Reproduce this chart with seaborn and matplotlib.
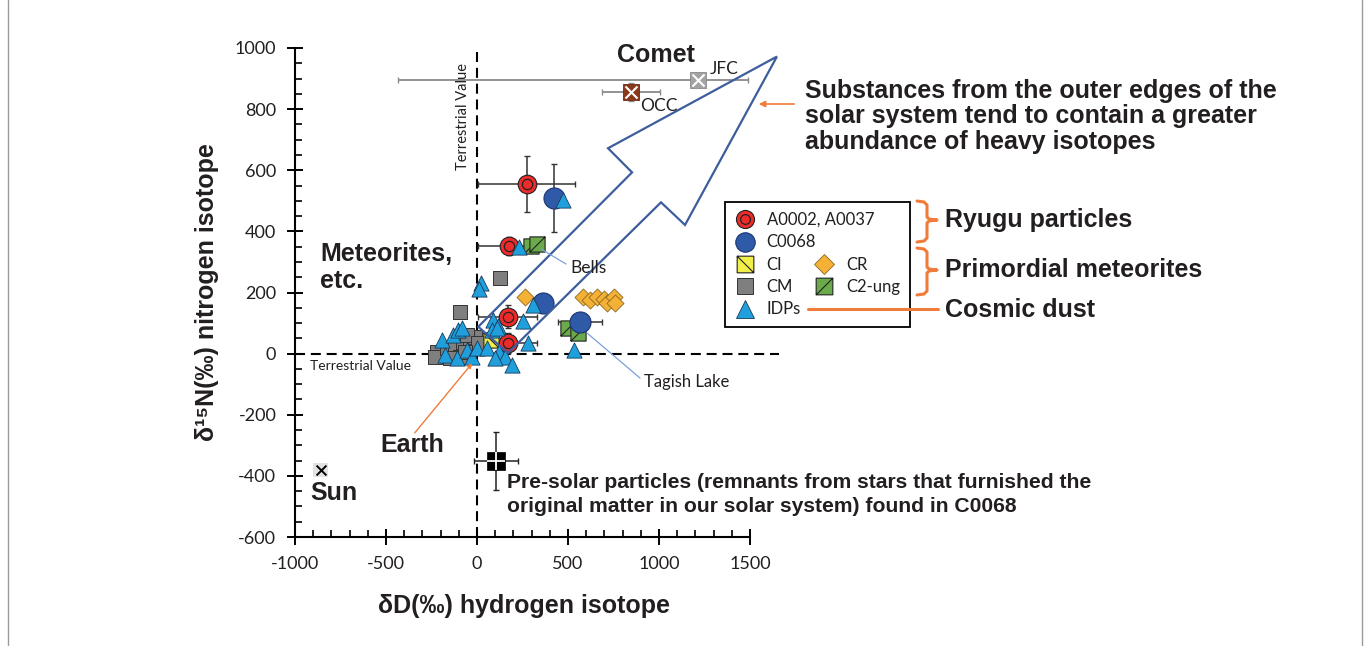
import matplotlib
matplotlib.use('Agg')
import matplotlib.pyplot as plt
import seaborn as sns
import numpy as np
import pandas as pd
from matplotlib.path import Path
from matplotlib.lines import Line2D
from matplotlib.patches import Polygon, FancyArrowPatch
from matplotlib.markers import MarkerStyle
from matplotlib.ticker import MultipleLocator
from matplotlib.legend_handler import HandlerTuple

# ---------------- data ----------------
ryugu_x = [273, 178, 169, 169]
ryugu_y = [555, 353, 121, 34]
ryugu_xerr = [268, 171, 162, 162]
ryugu_yerr = [91, 30, 38, 33]

c0068_x = [425, 364, 566]
c0068_y = [508, 165, 102]
c0068_xerr = [0, 0, 122]
c0068_yerr = [111, 0, 0]

ci_x = [77]
ci_y = [45]

cm_x = [126, -93, -221, -231, -167, -139, -121, -75, -38, -11, -93, -57, -148, 7, -66]
cm_y = [247, 136, 6, -10, 17, 1, 23, 39, 50, 55, -10, 61, -15, 34, 6]

cr_x = [264, 584, 621, 658, 698, 712, 753, 758]
cr_y = [184, 184, 175, 186, 178, 165, 184, 165]

c2ung_x = [297, 331, 502, 557]
c2ung_y = [353, 359, 83, 66]

idp_x = [474, 232, 20, 12, 306, 254, 86, 114, 282, 533, -194, -130, -103, -84, -176,
         -112, -57, -29, -2, 53, 81, 108, 123, 154, 190, 99]
idp_y = [502, 348, 230, 212, 159, 108, 110, 90, 34, 12, 45, 61, 77, 83, -5,
         -15, 12, -10, 17, 17, 77, 83, 6, -10, -37, -15]

presolar_x, presolar_y = [103], [-351]
presolar_xerr, presolar_yerr = [120], [95]

sun_x, sun_y = [-859], [-381]

jfc_x, jfc_y = [1214], [895]
jfc_xerr_lo, jfc_xerr_hi = [1648], [275]

occ_x, occ_y = [845], [855]
occ_xerr, occ_yerr = [160], [30]

# arrow outline (data coords)
arrow_x = [1648, 720, 852, 7, 170, 1011, 1143]
arrow_y = [972, 672, 593, 88, 2, 495, 421]

# ---------------- style ----------------
sns.set_style('ticks')
plt.rcParams['font.family'] = ['Lato', 'DejaVu Sans']
plt.rcParams['axes.unicode_minus'] = False

RED = '#ee2b2b'
BLUE = '#2f5aa8'
CYAN = '#1fa0dc'
GRAY = '#7f7f7f'
YELLOW = '#f2ee4a'
ORANGE_D = '#f4b135'
GREEN = '#6aaa4a'
ORANGE = '#f07c3c'
ARROWC = '#3d5d9c'
TXT = '#231f20'
BOLD = ['Liberation Sans', 'DejaVu Sans']

W, H = 1370, 646
fig = plt.figure(figsize=(W / 100, H / 100), dpi=100)
ax = fig.add_axes([295 / W, 1 - 537 / H, 455 / W, 489 / H])


def fx(px):
    return px / W


def fy(py):
    return 1 - py / H


ci_marker = Path([(-1, -1), (1, -1), (1, 1), (-1, 1), (-1, -1), (-1, 1), (1, -1)],
                 [Path.MOVETO, Path.LINETO, Path.LINETO, Path.LINETO, Path.CLOSEPOLY,
                  Path.MOVETO, Path.LINETO])
c2_marker = Path([(-1, -1), (1, -1), (1, 1), (-1, 1), (-1, -1), (-1, -1), (1, 1)],
                 [Path.MOVETO, Path.LINETO, Path.LINETO, Path.LINETO, Path.CLOSEPOLY,
                  Path.MOVETO, Path.LINETO])


def sc(x, y, **kw):
    sns.scatterplot(x=x, y=y, ax=ax, legend=False, clip_on=False, **kw)


# terrestrial value dashed lines
DASH = (0, (4.8, 2.8))
ax.plot([0, 0], [-600, 1000], ls=DASH, color='black', lw=1.5, zorder=1, clip_on=False)
ax.plot([-1000, 1660], [0, 0], ls=DASH, color='black', lw=1.5, zorder=1, clip_on=False)

# error bars
ax.errorbar(ryugu_x, ryugu_y, xerr=ryugu_xerr, yerr=ryugu_yerr, fmt='none',
            ecolor='#333333', elinewidth=1.1, capsize=2.5, zorder=2)
ax.errorbar(c0068_x, c0068_y, xerr=c0068_xerr, yerr=c0068_yerr, fmt='none',
            ecolor='#333333', elinewidth=1.1, capsize=2.5, zorder=2)
ax.errorbar(presolar_x, presolar_y, xerr=presolar_xerr, yerr=presolar_yerr, fmt='none',
            ecolor='#222222', elinewidth=1.1, capsize=2.5, zorder=2)
ax.errorbar(jfc_x, jfc_y, xerr=[jfc_xerr_lo, jfc_xerr_hi], fmt='none',
            ecolor='#8a8a8a', elinewidth=1.3, capsize=2.5, zorder=2, clip_on=False)
ax.errorbar(occ_x, occ_y, xerr=occ_xerr, yerr=occ_yerr, fmt='none',
            ecolor='#8a8a8a', elinewidth=1.3, capsize=2.5, zorder=2)

# markers
sc(cm_x, cm_y, marker='s', s=110, color=GRAY, edgecolor='#333333', linewidth=0.7, zorder=3)
sc(cr_x, cr_y, marker='D', s=75, color=ORANGE_D, edgecolor='#8a6a20', linewidth=0.6, zorder=3)
sc(c2ung_x, c2ung_y, marker=c2_marker, s=120, color=GREEN, edgecolor='#222222', linewidth=0.8, zorder=3)
sc(ci_x, ci_y, marker=ci_marker, s=120, color=YELLOW, edgecolor='#222222', linewidth=0.8, zorder=3.5)
sc(ryugu_x, ryugu_y, marker='o', s=180, color=RED, edgecolor='#222222', linewidth=0.8, zorder=4)
sc(ryugu_x, ryugu_y, marker='o', s=55, color=RED, edgecolor='#222222', linewidth=0.9, zorder=4.1)
sc(c0068_x, c0068_y, marker='o', s=230, color=BLUE, edgecolor='#1c3570', linewidth=0.8, zorder=4)
sc(idp_x, idp_y, marker='^', s=120, color=CYAN, edgecolor='#1a3a5a', linewidth=0.6, zorder=4.5)

sc(presolar_x, presolar_y, marker='s', s=180, color='black', edgecolor='black', linewidth=0.5, zorder=4)
sc(presolar_x, presolar_y, marker='+', s=160, color='white', linewidth=1.3, zorder=4.2)
sc(sun_x, sun_y, marker='s', s=110, color='#e2e2e2', edgecolor='none', linewidth=0, zorder=3)
sc(sun_x, sun_y, marker='x', s=50, color='black', linewidth=1.4, zorder=3.2)
sc(jfc_x, jfc_y, marker='s', s=130, color='#a3a3a3', edgecolor='#8a8a8a', linewidth=0.6, zorder=3)
sc(jfc_x, jfc_y, marker='x', s=75, color='white', linewidth=1.5, zorder=3.2)
sc(occ_x, occ_y, marker='s', s=130, color='#8a3a1a', edgecolor='#6a2a10', linewidth=0.6, zorder=3)
sc(occ_x, occ_y, marker='x', s=75, color='white', linewidth=1.5, zorder=3.2)

# big hollow arrow
ax.add_patch(Polygon(np.column_stack([arrow_x, arrow_y]), closed=True, fill=False,
                     edgecolor=ARROWC, lw=1.6, zorder=5, clip_on=False))

# axes style
ax.set_xlim(-1000, 1500)
ax.set_ylim(-600, 1000)
ax.xaxis.set_major_locator(MultipleLocator(500))
ax.xaxis.set_minor_locator(MultipleLocator(100))
ax.yaxis.set_major_locator(MultipleLocator(200))
ax.yaxis.set_minor_locator(MultipleLocator(50))
ax.tick_params(which='major', direction='inout', length=11, width=1.4, labelsize=13,
               colors='black', labelcolor=TXT, pad=8)
ax.tick_params(which='minor', direction='in', length=5, width=1.2, colors='black')
for s in ['top', 'right']:
    ax.spines[s].set_visible(False)
for s in ['left', 'bottom']:
    ax.spines[s].set_linewidth(1.5)
    ax.spines[s].set_color('black')
ax.set_facecolor('none')
ax.grid(False)

ax.set_xlabel('δD(‰) hydrogen isotope', fontsize=18, fontweight='bold', family=BOLD, color=TXT)
ax.set_ylabel('δ¹⁵N(‰) nitrogen isotope', fontsize=18, fontweight='bold', family=BOLD, color=TXT)
ax.xaxis.set_label_coords((524 - 295) / 455, (537 - 606) / 489)
ax.xaxis.label.set_va('center')
ax.yaxis.set_label_coords((207 - 295) / 455, (537 - 292) / 489)
ax.yaxis.label.set_va('center')

# ---------------- annotations ----------------
def btext(px, py, s, size=18, **kw):
    fig.text(fx(px), fy(py), s, fontsize=size, fontweight='bold', family=BOLD, color=TXT,
             va='center', **kw)


def rtext(px, py, s, size=12, **kw):
    fig.text(fx(px), fy(py), s, fontsize=size, color=TXT, va='center', **kw)


btext(656, 55, 'Comet', ha='center')
rtext(710, 69, 'JFC', size=12.5)
rtext(640, 106, 'OCC', size=12.5)
btext(805, 91, 'Substances from the outer edges of the')
btext(805, 116, 'solar system tend to contain a greater')
btext(805, 142, 'abundance of heavy isotopes')
fig.add_artist(FancyArrowPatch((fx(797), fy(104)), (fx(756), fy(104)), transform=fig.transFigure,
                               arrowstyle='-|>', mutation_scale=9, color=ORANGE, lw=1.2))
rtext(463, 116, 'Terrestrial Value', size=10.5, rotation=90, ha='center')
rtext(310, 366, 'Terrestrial Value', size=10)
btext(320, 254, 'Meteorites,')
btext(320, 281, 'etc.')
rtext(570, 268, 'Bells', size=12.5)
fig.add_artist(Line2D([fx(541), fx(566)], [fy(249), fy(264)], color='#7aa2d8', lw=0.9))
rtext(644, 382, 'Tagish Lake', size=12)
fig.add_artist(Line2D([fx(587), fx(640)], [fy(333), fy(378)], color='#7aa2d8', lw=0.9))
btext(380, 445, 'Earth')
fig.add_artist(FancyArrowPatch((fx(413), fy(435)), (fx(474), fy(361)), transform=fig.transFigure,
                               arrowstyle='-|>', mutation_scale=7, color=ORANGE, lw=1.0))
btext(310, 493, 'Sun')
btext(507, 482, 'Pre-solar particles (remnants from stars that furnished the', size=15.2)
btext(507, 507, 'original matter in our solar system) found in C0068', size=15.2)

# legend
h_ryugu = (Line2D([], [], ls='none', marker='o', ms=13, mfc=RED, mec='#222222', mew=0.8),
           Line2D([], [], ls='none', marker='o', ms=7, mfc=RED, mec='#222222', mew=0.9))
h_c0068 = Line2D([], [], ls='none', marker='o', ms=14, mfc=BLUE, mec='#1c3570', mew=0.8)
h_ci = Line2D([], [], ls='none', marker=ci_marker, ms=12, mfc=YELLOW, mec='#222222', mew=0.8)
h_cm = Line2D([], [], ls='none', marker='s', ms=12, mfc=GRAY, mec='#333333', mew=0.7)
h_idp = Line2D([], [], ls='none', marker='^', ms=13, mfc=CYAN, mec='#1a3a5a', mew=0.6)
h_cr = Line2D([], [], ls='none', marker='D', ms=10, mfc=ORANGE_D, mec='#8a6a20', mew=0.6)
h_c2 = Line2D([], [], ls='none', marker=c2_marker, ms=12, mfc=GREEN, mec='#222222', mew=0.8)
h_blank = Line2D([], [], ls='none')
handles = [h_ryugu, h_c0068, h_ci, h_cm, h_idp, h_blank, h_blank, h_cr, h_c2, h_blank]
labels = ['A0002, A0037', 'C0068', 'CI', 'CM', 'IDPs', '', '', 'CR', 'C2-ung', '']
leg = ax.legend(handles, labels, ncol=2, loc='upper left', bbox_to_anchor=(fx(725), fy(202)),
                bbox_transform=fig.transFigure, fontsize=12, frameon=True, fancybox=False,
                edgecolor='black', framealpha=1, borderpad=0.6, labelspacing=0.38,
                handlelength=1.2, handletextpad=0.7, columnspacing=-3.6, borderaxespad=0,
                handler_map={tuple: HandlerTuple(ndivide=1, pad=0)})
leg.get_frame().set_linewidth(1.3)
for t in leg.get_texts():
    t.set_color(TXT)


# braces
def brace(top, mid, bot):
    xs = [917, 924, 927, 927, 929, 937, 929, 927, 927, 924, 917]
    ys = [top, top + 1, top + 4, mid - 3, mid - 1, mid, mid + 1, mid + 3, bot - 4, bot - 1, bot]
    fig.add_artist(Line2D([fx(v) for v in xs], [fy(v) for v in ys], color=ORANGE, lw=2.2,
                          solid_joinstyle='round', solid_capstyle='round'))


brace(201, 220, 242)
brace(248, 270, 295)
fig.add_artist(Line2D([fx(808), fx(938)], [fy(309), fy(309)], color=ORANGE, lw=2.2))
btext(945, 220, 'Ryugu particles')
btext(945, 270, 'Primordial meteorites')
btext(945, 310, 'Cosmic dust')

# thin frame lines at the figure sides
fig.add_artist(Line2D([fx(8), fx(8)], [0, 1], color='#9a9a9a', lw=1))
fig.add_artist(Line2D([fx(1362), fx(1362)], [0, 1], color='#9a9a9a', lw=1))

fig.savefig('out.png', dpi=100, facecolor='white')
